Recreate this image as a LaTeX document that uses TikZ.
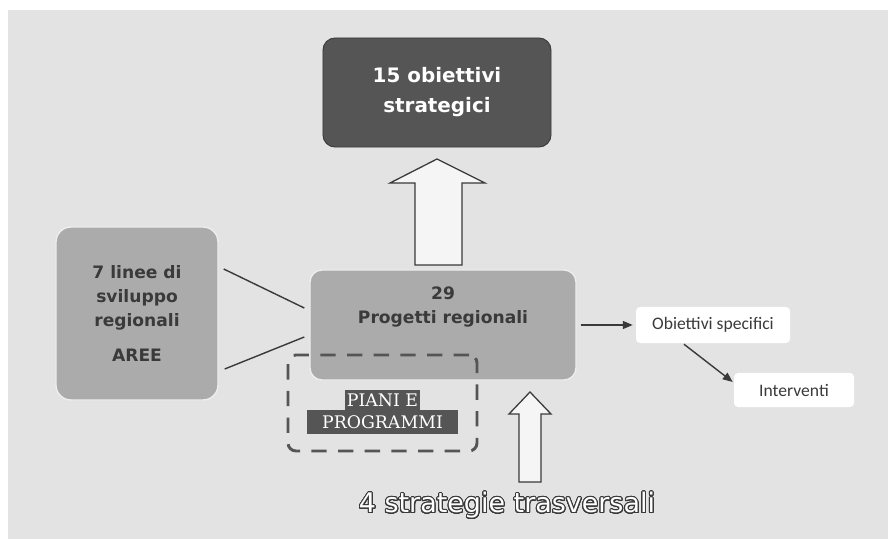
\documentclass[tikz,border=0pt]{standalone}
\usepackage{fontspec}
\setmainfont{DejaVu Sans}
\newfontfamily\pianifont{DejaVu Serif}
\newfontfamily\labelfont{Carlito}
\usepackage{contour}
\contourlength{0.9pt}
\contournumber{32}
\usetikzlibrary{arrows.meta}
\tikzset{>={Triangle[length=3mm,width=2.4mm]}}
\definecolor{backgray}{HTML}{E3E3E3}
\definecolor{darkfill}{HTML}{555555}
\definecolor{midfill}{HTML}{ABABAB}
\definecolor{inkgray}{HTML}{3A3A3A}

\begin{document}
\begin{tikzpicture}[x=0.03cm,y=-0.03cm,
  topbox/.style = {fill=darkfill, draw=inkgray, line width=0.8pt, rounded corners=0.36cm, text=white, font=\bfseries\fontsize{17}{25.5}\selectfont, align=center},
  greybox/.style = {fill=midfill, draw=white!80!midfill, line width=1.2pt, rounded corners=0.45cm, text=inkgray, font=\bfseries\fontsize{14.6}{20.4}\selectfont, align=center},
  whitebox/.style = {fill=white, rounded corners=0.12cm, text=inkgray, font=\labelfont\fontsize{15}{18}\selectfont},
  pianilbl/.style = {fill=darkfill, text=white, inner sep=0pt, font=\pianifont\fontsize{14.8}{18}\selectfont},
  hollow/.style = {fill=white!96!black, draw=inkgray, line width=1.1pt, line join=miter},
  link/.style = {draw=inkgray, line width=1.2pt}]
\useasboundingbox (0,0) rectangle (888,539);
\fill[backgray] (8,10) rectangle (888,539);

\node[topbox, minimum width=6.84cm, minimum height=3.27cm] (obj) at (437,92.5) {15 obiettivi\\strategici};
\node[greybox, minimum width=4.86cm, minimum height=5.19cm] (lin) at (137,313.5) {7 linee di\\sviluppo\\regionali\\[9pt]AREE};
\node[greybox, rounded corners=0.36cm, minimum width=7.98cm, minimum height=3.3cm] (prog) at (443,325) {};
\node[text=inkgray, font=\bfseries\fontsize{14.6}{20.4}\selectfont, align=center] (progtxt) at (443,307) {29\\Progetti regionali};

\node[draw=darkfill, line width=2.5pt, dash pattern=on 0.46cm off 0.34cm, rounded corners=0.24cm, minimum width=5.67cm, minimum height=2.88cm] (pianibox) at (382.5,403) {};
\node[pianilbl, minimum width=2.25cm, minimum height=0.6cm] (piani) at (382.5,400) {PIANI E};
\node[pianilbl, minimum width=4.53cm, minimum height=0.72cm] (progr) at (382.5,422) {PROGRAMMI};

\node[whitebox, minimum width=4.62cm, minimum height=1.08cm] (spec) at (713,325) {Obiettivi specifici};
\node[whitebox, minimum width=3.6cm, minimum height=1.02cm] (intv) at (794,390) {Interventi};

\node[text=white, font=\fontsize{23}{28}\selectfont] (trasv) at (507,506) {\contour{inkgray}{4 strategie trasversali}};

\draw[hollow] (437,159) -- (485,183) -- (462,183) -- (462,265) -- (415,265) -- (415,183) -- (390,183) -- cycle;
\draw[hollow] (530,392) -- (551,414) -- (541,414) -- (541,482) -- (519,482) -- (519,414) -- (509,414) -- cycle;

\draw[link] ([shift={(5,-44.5)}]lin.east) -- ([shift={(-5,-17)}]prog.west);
\draw[link] ([shift={(6,55.5)}]lin.east) -- ([shift={(-5,12)}]prog.west);
\draw[link, ->, shorten <=0.12cm, shorten >=0.09cm] (prog) -- (spec);
\draw[link, ->] ([shift={(-29,1)}]spec.south) -- ([shift={(-1,-8)}]intv.west);
\end{tikzpicture}
\end{document}
